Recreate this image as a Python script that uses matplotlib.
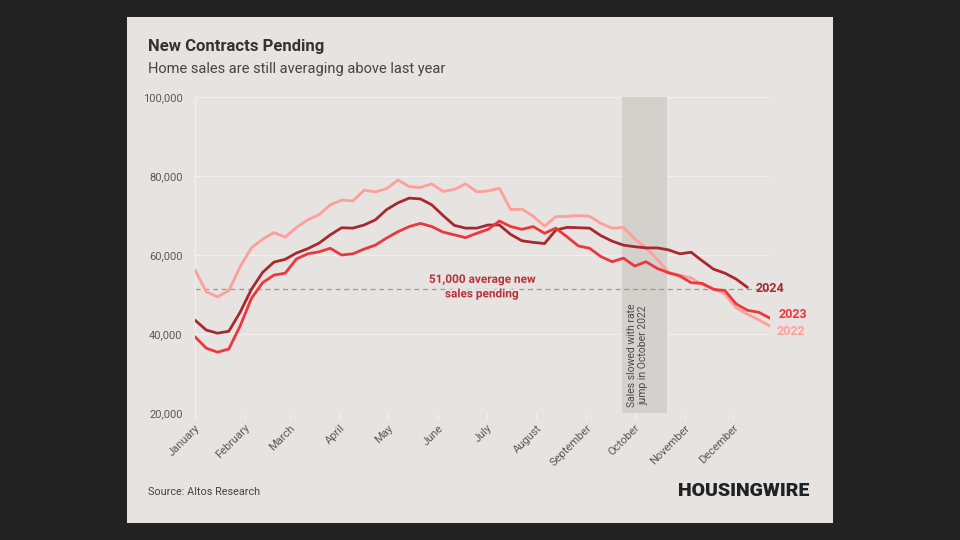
import numpy as np
import matplotlib
matplotlib.use("Agg")
import matplotlib.pyplot as plt
import matplotlib.patheffects as pe
from matplotlib.patches import Rectangle
from matplotlib.ticker import FuncFormatter

plt.rcParams['font.family'] = ['Roboto', 'DejaVu Sans']

# weekly pending contracts, in thousands
sales_2022 = [56.2, 50.7, 49.4, 51.0, 57.0, 61.8, 64.0, 65.7, 64.5, 67.0,
              68.9, 70.2, 72.7, 73.9, 73.7, 76.4, 76.0, 76.8, 79.0, 77.3,
              77.1, 78.0, 76.1, 76.6, 78.0, 76.0, 76.2, 76.9, 71.5, 71.6,
              69.8, 67.3, 69.7, 69.8, 70.0, 69.8, 68.0, 66.8, 67.0, 64.1,
              61.8, 58.9, 55.6, 54.9, 54.2, 52.5, 51.5, 50.1, 46.6, 45.0,
              43.6, 42.0]
sales_2023 = [39.3, 36.4, 35.4, 36.2, 42.0, 49.0, 53.0, 54.9, 55.4, 59.0,
              60.3, 60.8, 61.7, 60.0, 60.3, 61.5, 62.5, 64.3, 65.9, 67.2,
              68.0, 67.2, 65.8, 65.1, 64.4, 65.5, 66.5, 68.6, 67.2, 66.5,
              67.2, 65.5, 66.8, 64.6, 62.3, 61.7, 59.6, 58.3, 59.2, 57.2,
              58.3, 56.6, 55.5, 54.7, 53.0, 52.8, 51.3, 51.0, 47.6, 46.0,
              45.5, 44.0]
sales_2024 = [43.5, 41.0, 40.2, 40.7, 45.5, 51.3, 55.6, 58.2, 58.9, 60.5,
              61.6, 63.0, 65.1, 66.9, 66.8, 67.6, 68.9, 71.5, 73.2, 74.4,
              74.2, 72.7, 70.0, 67.5, 66.8, 66.8, 67.6, 67.6, 65.2, 63.6,
              63.2, 62.9, 66.3, 67.0, 66.9, 66.8, 64.9, 63.5, 62.5, 62.1,
              61.8, 61.8, 61.3, 60.3, 60.7, 58.5, 56.4, 55.4, 53.9, 51.8]

average_pending = 51.5
slowdown_weeks = (37.9, 41.9)

months = ['January', 'February', 'March', 'April', 'May', 'June', 'July',
          'August', 'September', 'October', 'November', 'December']
month_start_day = [0, 31, 59, 90, 120, 151, 181, 212, 243, 273, 304, 334]

bg = '#e6e3e0'
grid_c = '#f2f0ee'
c2022 = '#ff9f9b'
c2023 = '#eb373d'
c2024 = '#a8282f'

fig = plt.figure(figsize=(9.6, 5.4), dpi=100)
fig.patch.set_facecolor('#222222')
fig.patches.append(Rectangle((127 / 960, 17 / 540), 706 / 960, 506 / 540,
                             transform=fig.transFigure, facecolor=bg,
                             edgecolor='none', zorder=-10))

ax = fig.add_axes([195 / 960, 1 - 413 / 540, 575 / 960, 316 / 540])
ax.set_facecolor(bg)

def days(series):
    return np.arange(len(series)) * 7

ax.axvspan(slowdown_weeks[0] * 7, slowdown_weeks[1] * 7, color='#d4d1cd',
           zorder=1, lw=0)

ax.axhline(average_pending * 1000, color='#9a9896', lw=0.9,
           ls=(0, (4, 3)), zorder=2)

line_kw = dict(lw=2, solid_joinstyle='round', solid_capstyle='round')
ax.plot(days(sales_2022), np.array(sales_2022) * 1000, color=c2022, zorder=3, **line_kw)
ax.plot(days(sales_2024), np.array(sales_2024) * 1000, color=c2024, zorder=4, **line_kw)
ax.plot(days(sales_2023), np.array(sales_2023) * 1000, color=c2023, zorder=5, **line_kw)

ax.set_xlim(0, (len(sales_2022) - 1) * 7)
ax.set_ylim(20000, 100000)
ax.set_yticks([20000, 40000, 60000, 80000, 100000])
ax.yaxis.set_major_formatter(FuncFormatter(lambda v, p: f'{int(v):,}'))
ax.grid(axis='y', color=grid_c, lw=0.9, zorder=0.5)
ax.set_axisbelow(True)

for s in ['top', 'right', 'bottom']:
    ax.spines[s].set_visible(False)
ax.spines['left'].set_color(grid_c)
ax.spines['left'].set_linewidth(0.9)

ax.set_xticks(month_start_day)
ax.set_xticklabels(months, rotation=45, ha='right', rotation_mode='anchor')
ax.tick_params(axis='x', colors=grid_c, length=4, width=0.9, pad=3,
               labelcolor='#5a5a5a', labelsize=8)
ax.tick_params(axis='y', length=0, pad=9, labelcolor='#5a5a5a', labelsize=8)

# end-of-line labels
ax.annotate('2024', (days(sales_2024)[-1], sales_2024[-1] * 1000),
            xytext=(6, -1), textcoords='offset points', color=c2024,
            fontsize=9, fontweight='bold', va='center')
ax.annotate('2023', (days(sales_2023)[-1], sales_2023[-1] * 1000),
            xytext=(6, 3), textcoords='offset points', color=c2023,
            fontsize=9, fontweight='bold', va='center', annotation_clip=False)
ax.annotate('2022', (days(sales_2022)[-1], sales_2022[-1] * 1000),
            xytext=(5, -4), textcoords='offset points', color=c2022,
            fontsize=9, fontweight='bold', va='center', annotation_clip=False)

ax.text(178, average_pending * 1000 + 500, '51,000 average new\nsales pending',
        ha='center', va='center', color='#b8323a', fontsize=8.5,
        fontweight='bold', linespacing=1.15, zorder=6,
        path_effects=[pe.withStroke(linewidth=3, foreground=bg)])

ax.text(slowdown_weeks[0] * 7 + 9.5, 21500,
        'Sales slowed with rate\njump in October 2022', rotation=90,
        ha='center', va='bottom', color='#4a4a4a', fontsize=7.5,
        linespacing=1.25, zorder=6)

fig.text(148 / 960, 1 - 47 / 540, 'New Contracts Pending', fontsize=12,
         fontweight='bold', color='#333333', va='center')
fig.text(148 / 960, 1 - 69 / 540, 'Home sales are still averaging above last year',
         fontsize=10.5, color='#444444', va='center')
fig.text(148 / 960, 1 - 492 / 540, 'Source: Altos Research', fontsize=7.8,
         color='#444444', va='center')
fig.text(809 / 960, 1 - 491 / 540, 'HOUSINGWIRE', fontsize=14,
         fontweight='black', color='#1e2226', va='center', ha='right')

fig.savefig('out.png', dpi=100, facecolor=fig.get_facecolor())
